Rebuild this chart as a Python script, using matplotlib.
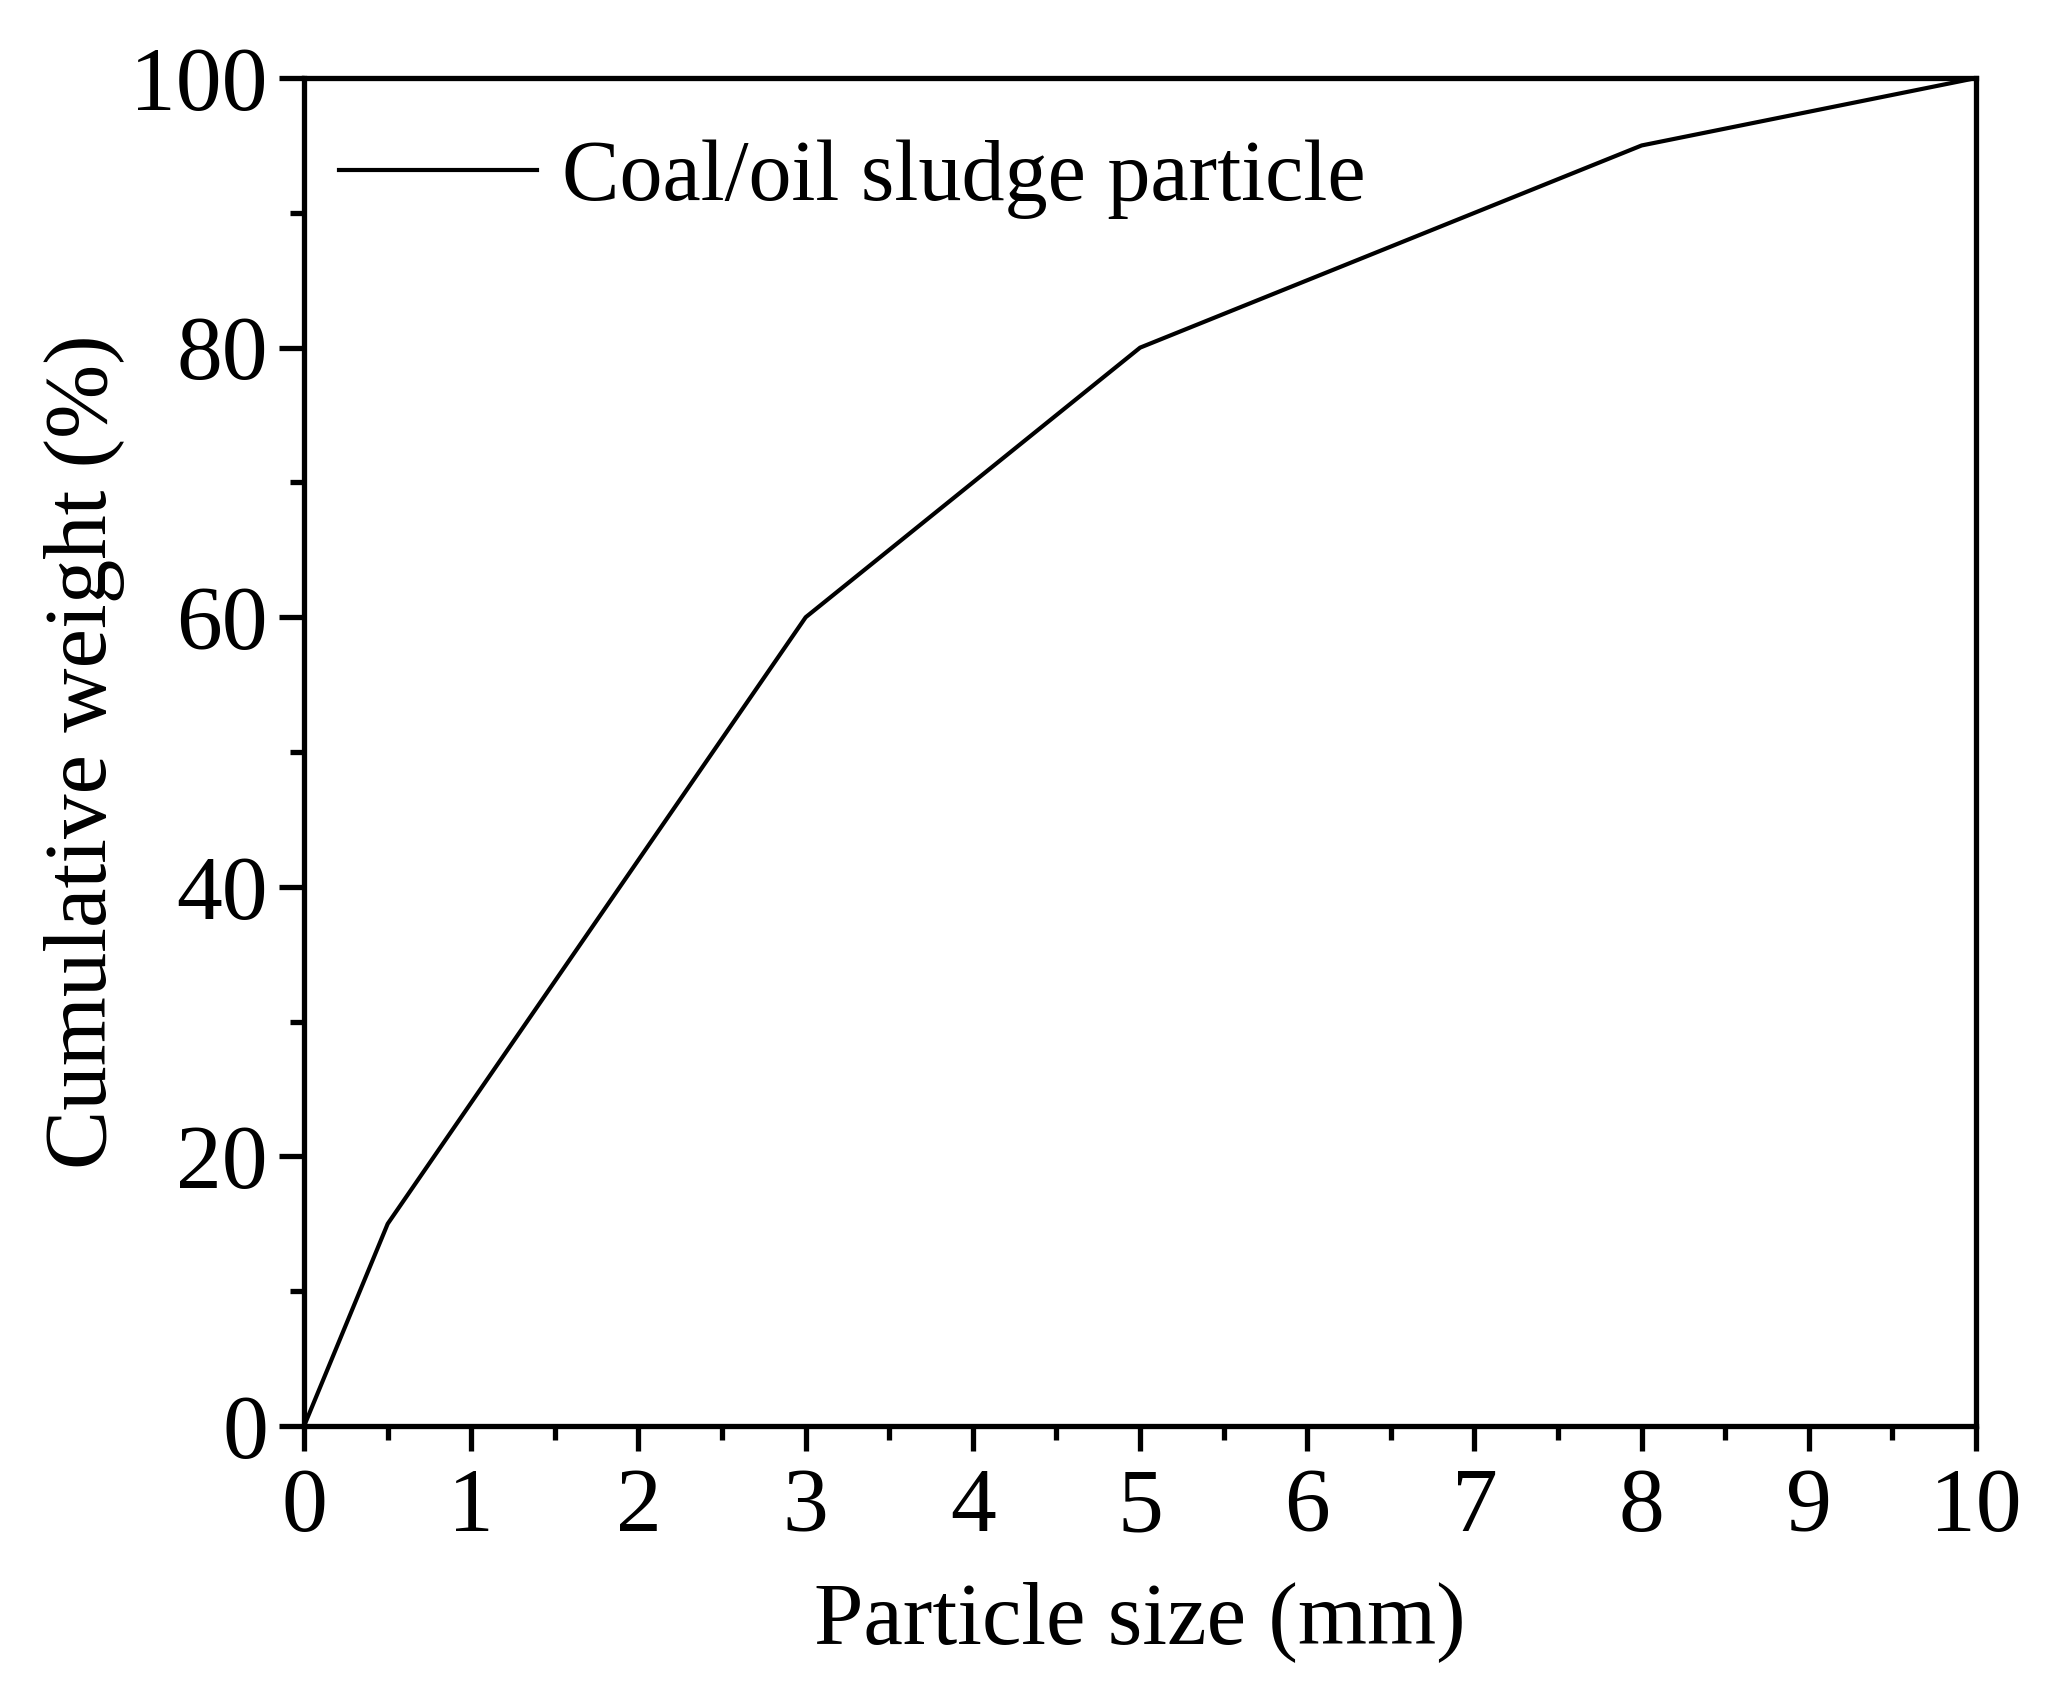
import matplotlib
matplotlib.use("Agg")
from matplotlib import pyplot as plt
from matplotlib.ticker import MultipleLocator

# particle size distribution
size_mm = [0, 0.5, 3, 5, 8, 10]
cum_weight = [0, 15, 60, 80, 95, 100]

plt.rcParams["font.family"] = ["Liberation Serif", "DejaVu Serif"]

fig = plt.figure(figsize=(20.45, 16.93), dpi=100)
ax = fig.add_axes([0.1487, 0.1577, 0.8176, 0.7962])

ax.plot(size_mm, cum_weight, color="black", linewidth=3.0, label="Coal/oil sludge particle")

ax.set_xlim(0, 10)
ax.set_ylim(0, 100)
ax.xaxis.set_major_locator(MultipleLocator(1))
ax.xaxis.set_minor_locator(MultipleLocator(0.5))
ax.yaxis.set_major_locator(MultipleLocator(20))
ax.yaxis.set_minor_locator(MultipleLocator(10))

for s in ax.spines.values():
    s.set_linewidth(3.8)
ax.tick_params(which="major", direction="out", length=18, width=3.8, labelsize=66, pad=8)
ax.tick_params(which="minor", direction="out", length=10, width=3.8)
ax.tick_params(axis="x", which="major", pad=12)

ax.set_xlabel("Particle size (mm)", fontsize=64, labelpad=22)
ax.set_ylabel("Cumulative weight (%)", fontsize=64, labelpad=4)

ax.legend(loc="upper left", frameon=False, fontsize=62, handlelength=2.3,
          handletextpad=0.3, borderaxespad=0.0, bbox_to_anchor=(0.0, 0.98))

fig.savefig("out.png", dpi=100)
